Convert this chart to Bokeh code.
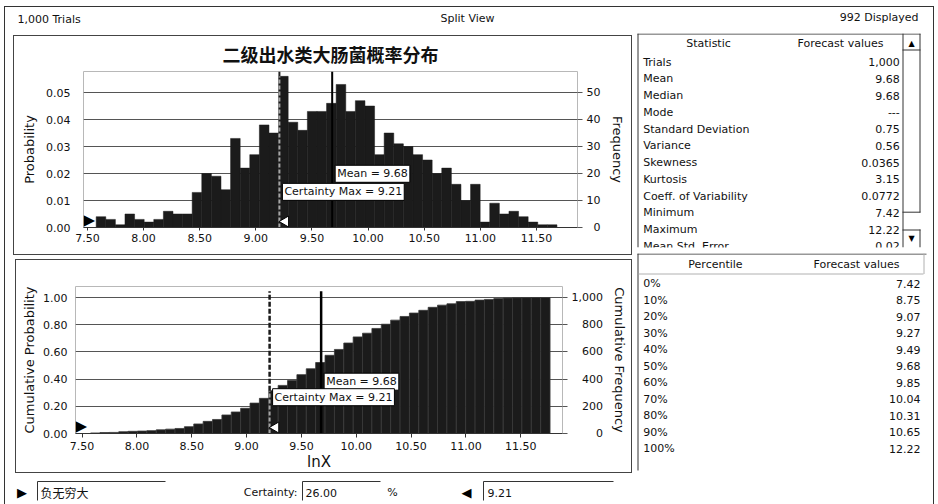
import numpy as np
from bokeh.plotting import figure
from bokeh.models import (Range1d, LinearAxis, FixedTicker, PrintfTickFormatter,
                          Label, ColumnDataSource, InlineStyleSheet)
from bokeh.layouts import column, row
from bokeh.embed import file_html
from bokeh.resources import INLINE
from bokeh.core.properties import value

# ---------------- data ----------------
chart_title = "二级出水类大肠菌概率分布"
x_title = "lnX"
view_name = "Split View"
trials = 1000
displayed = 992
bin_start = 7.578
bin_width = 0.0855
frequency = [4, 3, 1, 5, 3, 2, 3, 6, 5, 5,
             13, 20, 19, 14, 33, 22, 27, 38, 35, 56,
             39, 36, 43, 43, 46, 53, 43, 47, 45, 27,
             35, 31, 30, 27, 25, 20, 22, 16, 10, 16,
             2, 9, 5, 6, 4, 2, 1, 1]
mean_value = 9.68
certainty_max = 9.21
certainty_pct = 26.00
certainty_min_text = "负无穷大"

x_ticks = [7.5, 8.0, 8.5, 9.0, 9.5, 10.0, 10.5, 11.0, 11.5]
prob_ticks = [0.0, 0.01, 0.02, 0.03, 0.04, 0.05]
freq_ticks = [0, 10, 20, 30, 40, 50]
cum_prob_ticks = [0.0, 0.2, 0.4, 0.6, 0.8, 1.0]
cum_freq_ticks = [0, 200, 400, 600, 800, 1000]

stat_names = ["Trials", "Mean", "Median", "Mode", "Standard Deviation", "Variance",
              "Skewness", "Kurtosis", "Coeff. of Variability", "Minimum", "Maximum",
              "Mean Std. Error"]
stat_values = ["1,000", "9.68", "9.68", "---", "0.75", "0.56", "0.0365", "3.15",
               "0.0772", "7.42", "12.22", "0.02"]
pct_names = ["0%", "10%", "20%", "30%", "40%", "50%", "60%", "70%", "80%", "90%", "100%"]
pct_values = ["7.42", "8.75", "9.07", "9.27", "9.49", "9.68", "9.85", "10.04", "10.31",
              "10.65", "12.22"]

# ---------------- style ----------------
FONT = "DejaVu Sans"
CJK = "Noto Sans CJK SC"
BAR = "#1b1b1b"
GRID = "#555555"
TXT = "#111111"


def box_css(l, t, r, b, color="#444444", w=1):
    return InlineStyleSheet(css=(
        ":host { position: relative; }"
        f":host::after {{ content: ''; position: absolute; left: {l}px; top: {t}px; "
        f"right: {r}px; bottom: {b}px; border: {w}px solid {color}; "
        "pointer-events: none; z-index: 50; }"))


# derived series
n = len(frequency)
edges = bin_start + bin_width * np.arange(n + 2)
hist_src = ColumnDataSource(dict(left=edges[:n], right=edges[1:n + 1],
                                 top=np.array(frequency) / trials))
cum_counts = np.cumsum(frequency)
cum_top = np.append(cum_counts, cum_counts[-1]) / cum_counts[-1]
cum_src = ColumnDataSource(dict(left=edges[:n + 1], right=edges[1:n + 2], top=cum_top))
cert_idx = int((certainty_max - bin_start) // bin_width)


def padded(ticks):
    """Right-align tick labels of a right axis by padding with figure spaces."""
    labels = [f"{t:,}" for t in ticks]
    wide = max(labels, key=len)
    out = {}
    for t, s in zip(ticks, labels):
        nd = sum(c.isdigit() for c in wide) - sum(c.isdigit() for c in s)
        nc = wide.count(",") - s.count(",")
        out[t] = "\u2007" * nd + "\u2008" * nc + s
    return out


def style_x(ax):
    ax.ticker = FixedTicker(ticks=x_ticks)
    ax.formatter = PrintfTickFormatter(format="%.2f")
    ax.axis_line_color = "#333333"
    ax.major_tick_line_color = "#333333"
    ax.major_tick_out = 3
    ax.major_tick_in = 0
    ax.minor_tick_line_color = None
    ax.major_label_text_font = FONT
    ax.major_label_text_font_size = "11px"
    ax.major_label_text_color = TXT


def style_left(ax, ticks, label, standoff):
    ax.ticker = FixedTicker(ticks=ticks)
    ax.formatter = PrintfTickFormatter(format="%.2f")
    ax.axis_line_color = None
    ax.major_tick_line_color = None
    ax.minor_tick_line_color = None
    ax.major_tick_out = 0
    ax.major_label_standoff = standoff
    ax.major_label_text_font = FONT
    ax.major_label_text_font_size = "11px"
    ax.major_label_text_color = TXT
    ax.axis_label = label
    ax.axis_label_text_font = FONT
    ax.axis_label_text_font_size = "13px"
    ax.axis_label_text_font_style = "normal"
    ax.axis_label_text_color = TXT
    ax.axis_label_standoff = 6


def right_axis(p, rname, ticks, label, label_standoff):
    ax = LinearAxis(y_range_name=rname, ticker=FixedTicker(ticks=ticks))
    ax.major_label_overrides = padded(ticks)
    ax.axis_line_color = None
    ax.major_tick_line_color = GRID
    ax.major_tick_out = 5
    ax.major_tick_in = 0
    ax.minor_tick_line_color = None
    ax.major_label_standoff = 4
    ax.major_label_text_font = FONT
    ax.major_label_text_font_size = "11px"
    ax.major_label_text_color = TXT
    ax.axis_label = label
    ax.axis_label_text_font = FONT
    ax.axis_label_text_font_size = "13px"
    ax.axis_label_text_font_style = "normal"
    ax.axis_label_text_color = TXT
    ax.axis_label_standoff = label_standoff
    p.add_layout(ax, "right")


def tag(p, x, y, text):
    p.add_layout(Label(x=x, y=y, x_offset=3, text=text, text_font=FONT,
                       text_font_size="11px", text_color=TXT, text_baseline="middle",
                       text_align="left", background_fill_color="white",
                       border_line_color="black", border_line_width=1, padding=2))


def grabbers(p, xr, yr, fw, fh):
    # left "-infinity" grabber and the white certainty-max grabber
    p.add_layout(Label(x=xr[0], y=0, x_offset=0, y_offset=-1, text="▶", text_align="left",
                       text_baseline="bottom", text_font=FONT, text_font_size="15px",
                       text_color="black"))
    dx = (xr[1] - xr[0]) / fw
    dy = yr / fh
    p.scatter(x=[certainty_max + 6 * dx], y=[6 * dy], marker="triangle", size=11,
              angle=np.pi / 2, fill_color="white", line_color="black", line_width=1)


# ---------------- top chart: probability histogram ----------------
X1 = (7.465, 11.865)
Y1 = 0.0578
FW1, FH1 = 494, 156
p1 = figure(frame_width=FW1, frame_height=FH1, x_range=Range1d(*X1), y_range=Range1d(0, Y1),
            output_backend="svg", toolbar_location=None, frame_align=False,
            min_border_left=83, min_border_right=57, min_border_top=34, min_border_bottom=30,
            outline_line_color="#b8b8b8", background_fill_color="white",
            border_fill_color="white", stylesheets=[box_css(13, 2, 2, 2)])
p1.title.text = chart_title
p1.title.align = "center"
p1.title.text_font = CJK
p1.title.text_font_size = "18px"
p1.title.text_font_style = "bold"
p1.title.text_color = TXT

p1.quad(left="left", right="right", top="top", bottom=0, source=hist_src,
        fill_color=BAR, line_color=BAR, line_width=0.5)
cert_top1 = frequency[cert_idx] / trials
p1.segment(x0=[certainty_max], y0=[0], x1=[certainty_max], y1=[cert_top1],
           line_color="#a6a6a6", line_width=2, line_dash="4 2")
p1.segment(x0=[certainty_max], y0=[cert_top1], x1=[certainty_max], y1=[Y1],
           line_color="#222222", line_width=2)
p1.segment(x0=[mean_value], y0=[0], x1=[mean_value], y1=[Y1],
           line_color="black", line_width=2)

p1.xgrid.visible = False
p1.ygrid.ticker = FixedTicker(ticks=prob_ticks)
p1.ygrid.grid_line_color = GRID
p1.ygrid.grid_line_width = 1.2
style_x(p1.xaxis[0])
p1.xaxis[0].major_label_standoff = 3
style_left(p1.yaxis[0], prob_ticks, "Probability", 13)
p1.extra_y_ranges = {"freq": Range1d(0, Y1 * trials)}
right_axis(p1, "freq", freq_ticks, "Frequency", 7)
tag(p1, mean_value, 0.0199, f"Mean = {mean_value:.2f}")
tag(p1, certainty_max, 0.0132, f"Certainty Max = {certainty_max:.2f}")
grabbers(p1, X1, Y1, FW1, FH1)

# ---------------- bottom chart: cumulative ----------------
X2 = (7.44, 11.881)
Y2 = 1.081
FW2, FH2 = 487, 147
p2 = figure(frame_width=FW2, frame_height=FH2, x_range=Range1d(*X2), y_range=Range1d(0, Y2),
            output_backend="svg", toolbar_location=None, frame_align=False,
            min_border_left=75, min_border_right=72, min_border_top=29, min_border_bottom=41,
            outline_line_color="#b8b8b8", background_fill_color="white",
            border_fill_color="white", stylesheets=[box_css(15, 2, 2, 1)])
p2.quad(left="left", right="right", top="top", bottom=0, source=cum_src,
        fill_color=BAR, line_color="#3a3a3a", line_width=0.8)
line_top2 = 1.046
cert_top2 = cum_top[cert_idx]
p2.segment(x0=[certainty_max], y0=[0], x1=[certainty_max], y1=[cert_top2],
           line_color="#a6a6a6", line_width=2, line_dash="4 2")
p2.segment(x0=[certainty_max], y0=[cert_top2], x1=[certainty_max], y1=[line_top2],
           line_color="#1a1a1a", line_width=2.5, line_dash="5 2")
p2.segment(x0=[mean_value], y0=[0], x1=[mean_value], y1=[line_top2],
           line_color="black", line_width=2.5)

p2.xgrid.visible = False
p2.ygrid.ticker = FixedTicker(ticks=cum_prob_ticks)
p2.ygrid.grid_line_color = GRID
p2.ygrid.grid_line_width = 1.2
style_x(p2.xaxis[0])
p2.xaxis[0].major_tick_out = 4
p2.xaxis[0].major_label_standoff = 4
p2.xaxis[0].axis_label = x_title
p2.xaxis[0].axis_label_text_font = FONT
p2.xaxis[0].axis_label_text_font_size = "15px"
p2.xaxis[0].axis_label_text_font_style = "normal"
p2.xaxis[0].axis_label_text_color = TXT
p2.xaxis[0].axis_label_standoff = 0
style_left(p2.yaxis[0], cum_prob_ticks, "Cumulative Probability", 8)
p2.yaxis[0].axis_label_standoff = 3
p2.extra_y_ranges = {"cfreq": Range1d(0, Y2 * trials)}
right_axis(p2, "cfreq", cum_freq_ticks, "Cumulative Frequency", 6)
tag(p2, mean_value, 0.381, f"Mean = {mean_value:.2f}")
tag(p2, certainty_max, 0.267, f"Certainty Max = {certainty_max:.2f}")
grabbers(p2, X2, Y2, FW2, FH2)


# ---------------- plain "screen" panels (y grows downward, pixel units) ----------------
def panel(w, h, frame_h=None):
    fh = h if frame_h is None else frame_h
    p = figure(width=w, height=h, x_range=Range1d(0, w), y_range=Range1d(fh, 0),
               x_axis_type=None, y_axis_type=None, output_backend="svg",
               toolbar_location=None, frame_align=False, min_border_left=0,
               min_border_right=0, min_border_top=0, min_border_bottom=h - fh,
               outline_line_color=None, background_fill_color="white",
               border_fill_color="white")
    return p


def txt(p, xs, ys, texts, align="left", size="11px", font=FONT, color=TXT):
    p.text(x=xs, y=ys, text=texts, text_align=align, text_baseline="middle",
           text_font=value(font), text_font_size=size, text_color=color)


W_LEFT, W_RIGHT = 634, 302

# header strip
hd = panel(W_LEFT + W_RIGHT, 33)
txt(hd, [17], [19], [f"{trials:,} Trials"])
txt(hd, [467], [18], [view_name], align="center")
txt(hd, [918], [17], [f"{displayed} Displayed"], align="right")

# footer strip
ft = panel(W_LEFT, 32)
ft.multi_line(xs=[[37, 37, 165], [302, 302, 380], [483, 483, 613]],
              ys=[[26, 7, 7], [26, 7, 7], [26, 7, 7]], line_color="#333333", line_width=1)
txt(ft, [21.5], [18], ["▶"], align="center", size="13px", color="black")
txt(ft, [40], [18], [certainty_min_text], size="12px", font=CJK)
txt(ft, [297], [18], ["Certainty:"], align="right")
txt(ft, [305], [18], [f"{certainty_pct:.2f}"])
txt(ft, [392], [18], ["%"], align="center")
txt(ft, [466], [18], ["◀"], align="center", size="13px", color="black")
txt(ft, [487], [18], [f"{certainty_max:.2f}"])

# statistics table
st = panel(W_RIGHT, 220, frame_h=214)
st.multi_line(xs=[[3.5, 3.5], [3, 286], [268.5, 268.5], [285.5, 285.5], [285.5, 285.5],
                  [268, 286], [268, 286], [268, 286]],
              ys=[[0, 214], [0.5, 0.5], [0, 214], [0, 179], [196, 214],
                  [16.5, 16.5], [178.7, 178.7], [196.5, 196.5]],
              line_color="#333333", line_width=1)
txt(st, [277], [10], ["▲"], align="center", size="8px", color="black")
txt(st, [277], [205], ["▼"], align="center", size="8px", color="black")
txt(st, [74], [10.3], ["Statistic"], align="center")
txt(st, [206], [10.3], ["Forecast values"], align="center")
row_y = [28.7 + 16.75 * i for i in range(len(stat_names))]
txt(st, [8.7] * len(stat_names), row_y, stat_names)
txt(st, [265.3] * len(stat_values), row_y, stat_values, align="right")

# percentile table
pt = panel(W_RIGHT, 249)
pt.multi_line(xs=[[3.5, 3.5], [3, 292], [4, 289], [289.5, 289.5]],
              ys=[[0, 217], [0.5, 0.5], [20.5, 20.5], [0, 20.5]],
              line_color=["#333333", "#333333", "#b0b0b0", "#b0b0b0"], line_width=1)
txt(pt, [81], [11], ["Percentile"], align="center")
txt(pt, [222], [11], ["Forecast values"], align="center")
prow_y = [30.3 + 16.5 * i for i in range(len(pct_names))]
txt(pt, [8.7] * len(pct_names), prow_y, pct_names)
txt(pt, [286] * len(pct_values), prow_y, pct_values, align="right")

layout = column(hd, row(column(p1, p2, ft), column(st, pt)),
                stylesheets=[box_css(4, 6, 2, 1, color="#333333")])

with open("out.html", "w") as f:
    f.write(file_html(layout, INLINE, title="Split View"))
